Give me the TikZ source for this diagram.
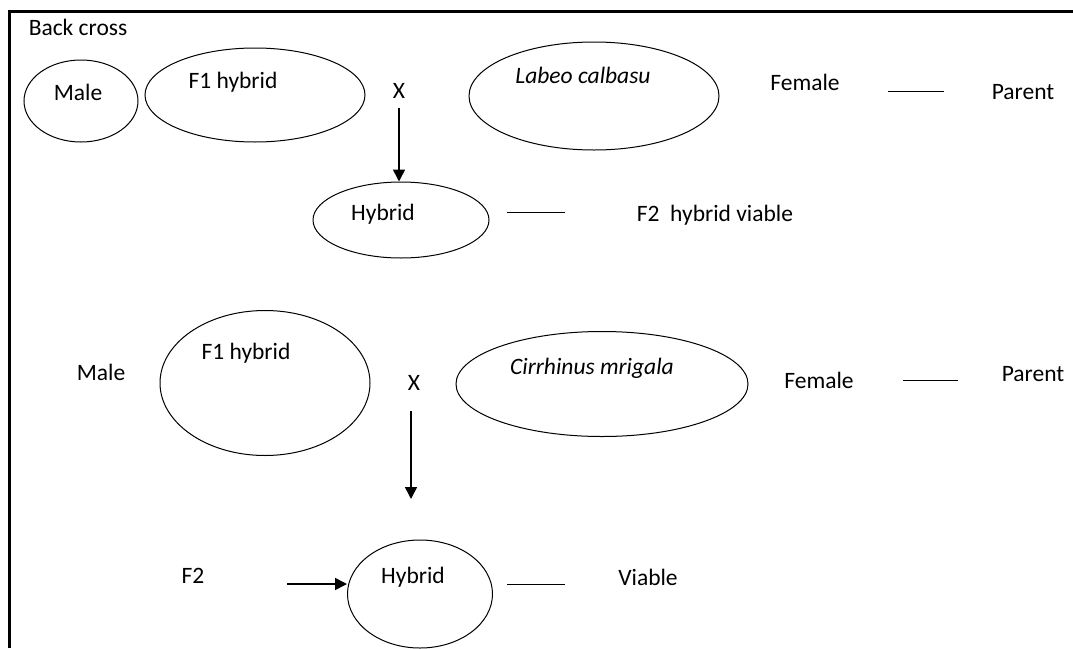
\documentclass[tikz,border=0pt]{standalone}
\usepackage{fontspec}
\setmainfont{Carlito}
\usetikzlibrary{arrows.meta,shapes.geometric}

\begin{document}
\begin{tikzpicture}[x=1pt,y=-1pt,line width=1pt,
  oval/.style={draw,ellipse,inner sep=0pt},
  txt/.style={font=\fontsize{23.5}{28}\selectfont,inner sep=0pt},
  arr/.style={-{Triangle[length=12pt,width=12pt]},line width=1.6pt}]
\useasboundingbox (0,0) rectangle (1073,648);
% frame
\draw[line width=3pt] (9.5,648) -- (9.5,11) -- (1073,11);
\node[txt] (title) at (78,27) {Back cross};
% upper cross
\node[oval,minimum width=114pt,minimum height=82pt] (male1) at (81,101) {};
\node[txt] (male1t) at (78,92) {Male};
\node[oval,minimum width=220pt,minimum height=94pt] (fone1) at (255,95) {};
\node[txt] (fone1t) at (233,82) {F1 hybrid};
\node[txt] (x1) at (399,91) {X};
\node[oval,minimum width=250pt,minimum height=108pt] (labeo) at (594,96) {};
\node[txt] (labeot) at (583,75) {\itshape Labeo calbasu};
\node[txt] (fem1) at (805,82) {Female};
\node[txt] (par1) at (1023,92) {Parent};
\coordinate (d1a) at (888,91);
\coordinate (d1b) at (944,91);
\draw (d1a) -- (d1b);
\node[oval,minimum width=176pt,minimum height=76pt] (hyb1) at (401,220) {};
\node[txt] (hyb1t) at (383,214) {Hybrid};
\draw[arr] ([yshift=-9pt]x1.south) -- (x1 |- hyb1.north);
\coordinate (d2a) at (507,212);
\coordinate (d2b) at (565,212);
\draw (d2a) -- (d2b);
\node[txt] (viab1) at (715,215) {F2\ \ hybrid viable};
% lower cross
\node[txt] (male2) at (101,372) {Male};
\node[oval,minimum width=210pt,minimum height=145pt] (fone2) at (265,383) {};
\node[txt] (fone2t) at (246,353) {F1 hybrid};
\node[txt] (x2) at (414,383) {X};
\coordinate (down) at (411,499);
\draw[arr] ([xshift=-3pt,yshift=-20pt]x2.south) -- (down);
\node[oval,minimum width=292pt,minimum height=105pt] (cirr) at (602,384) {};
\node[txt] (cirrt) at (592,368) {\itshape Cirrhinus mrigala};
\node[txt] (fem2) at (819,380) {Female};
\node[txt] (par2) at (1033,374) {Parent};
\coordinate (d3a) at (903,380);
\coordinate (d3b) at (958,380);
\draw (d3a) -- (d3b);
% F2 hybrid
\node[txt] (ftwo) at (193,576) {F2};
\node[oval,minimum width=145pt,minimum height=108pt] (hyb2) at (420,594) {};
\node[txt] (hyb2t) at (413,577) {Hybrid};
\coordinate (in2) at (287,584);
\draw[arr] (in2) -- (hyb2.west |- in2);
\coordinate (d4a) at (507,584);
\coordinate (d4b) at (565,584);
\draw (d4a) -- (d4b);
\node[txt] (viab2) at (648,577) {Viable};
\end{tikzpicture}
\end{document}
